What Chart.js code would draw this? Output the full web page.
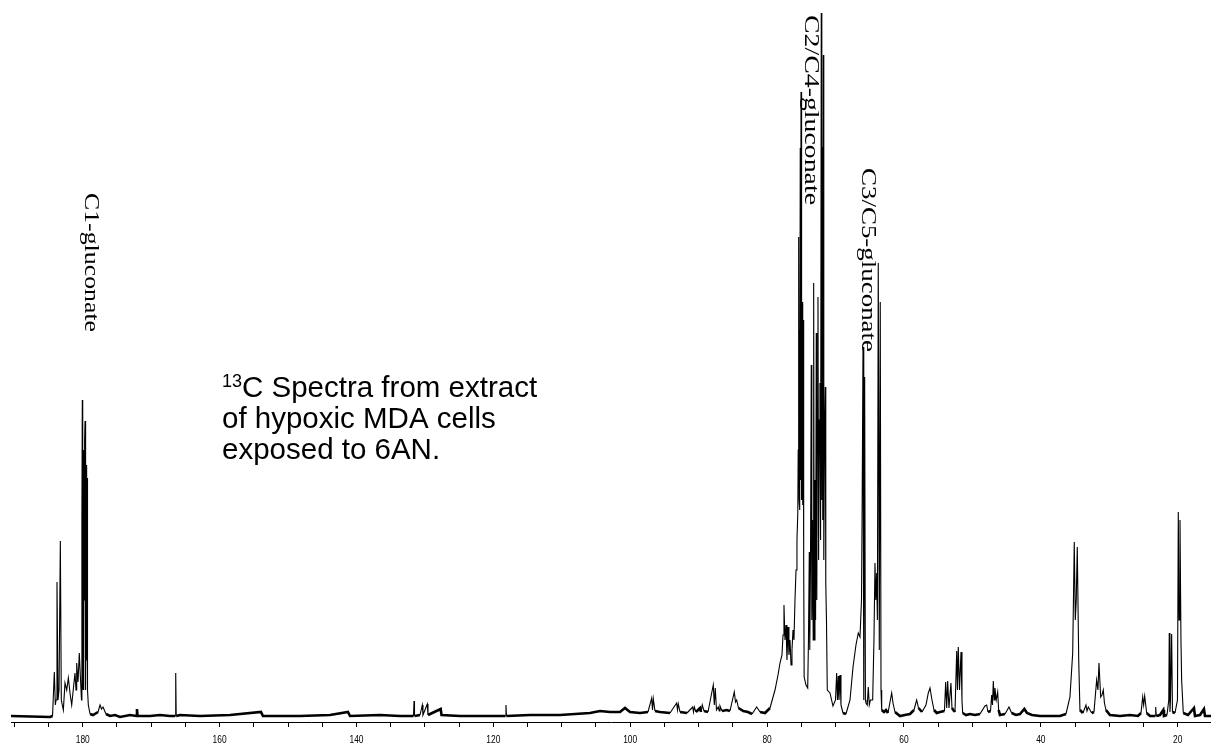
<!DOCTYPE html>
<html>
<head>
<meta charset="utf-8">
<script src="https://cdn.jsdelivr.net/npm/chart.js@4.4.0/dist/chart.umd.min.js"></script>
<style>
html,body{margin:0;padding:0;background:#fff;}
#wrap{width:1211px;height:743px;position:relative;}
</style>
</head>
<body>
<div id="wrap"><canvas id="c" width="1211" height="743"></canvas></div>
<script>
// Chemical shift (ppm) of each traced point of the 13C spectrum
const shiftPpm = [190.48,184.78,184.41,184.15,184.00,183.90,183.76,183.61,183.46,183.27,183.13,182.83,182.59,182.34,182.10,181.86,181.61,181.13,180.98,180.88,180.69,180.50,180.32,
180.18,180.12,180.06,180.00,179.94,179.88,179.82,179.77,179.72,179.66,179.61,179.55,179.49,179.43,179.37,179.33,179.27,179.18,
178.93,178.50,177.76,177.47,177.25,177.03,176.60,176.01,175.28,174.55,173.09,172.14,172.07,171.99,170.17,168.71,167.24,166.48,166.41,166.34,165.78,
162.86,158.48,153.95,153.66,148.25,143.87,141.24,140.94,136.56,133.64,
131.66,131.59,131.52,130.71,130.38,130.28,129.65,129.55,127.69,127.57,124.87,121.95,118.22,118.15,118.08,114.64,110.26,105.87,104.41,102.95,101.49,100.76,100.03,98.57,97.40,
96.86,96.74,96.62,96.38,95.65,94.18,93.21,93.09,92.97,92.72,91.70,90.87,90.75,90.63,90.39,89.80,89.65,89.47,89.22,88.63,
87.86,87.71,87.57,87.39,87.13,86.99,86.88,86.59,85.90,85.42,84.79,84.61,84.44,84.18,83.47,82.79,82.20,81.52,81.03,80.30,
79.57,78.84,78.40,78.11,77.82,77.67,77.53,77.38,77.23,77.09,76.94,76.80,76.65,76.50,76.36,76.21,76.07,75.92,75.77,75.63,75.51,
75.45,75.38,75.32,75.26,75.20,75.15,75.10,75.04,74.98,74.93,74.85,74.79,74.71,74.65,74.58,74.31,74.06,
73.95,73.83,73.76,73.65,73.54,73.46,73.36,73.26,73.19,73.11,73.00,72.91,72.81,72.73,72.65,72.56,72.47,72.37,72.27,72.18,
72.08,72.00,71.93,71.86,71.78,71.71,71.61,71.49,71.42,71.32,71.20,70.81,70.37,70.00,69.83,69.71,69.59,69.49,69.34,69.20,68.91,68.47,
67.88,67.44,67.01,66.67,66.42,66.20,66.10,65.98,65.87,65.74,65.63,65.55,65.36,65.21,65.06,64.89,64.57,64.38,64.23,64.11,63.98,63.88,63.75,63.60,63.46,63.35,63.25,
62.91,62.62,62.33,61.79,61.60,61.31,60.58,59.85,59.12,58.53,58.14,57.87,57.36,56.78,56.44,56.19,55.90,55.61,55.21,54.73,
54.08,53.90,53.75,53.61,53.42,53.13,52.98,52.79,52.54,52.29,52.18,52.06,51.88,51.66,51.52,51.42,50.93,50.35,49.62,48.89,
48.16,47.91,47.72,47.35,47.18,47.06,46.94,46.81,46.70,46.51,46.30,46.16,45.97,45.23,44.65,44.26,43.63,43.04,42.41,42.02,41.29,40.12,
38.66,37.20,36.32,35.74,35.34,35.11,34.96,34.82,34.67,34.46,34.28,33.84,33.40,33.25,33.06,32.57,32.23,31.84,31.65,31.50,31.25,31.06,30.87,30.70,30.48,
29.89,28.43,26.97,25.80,25.36,25.11,24.97,24.82,24.53,24.05,23.29,23.21,23.13,22.59,22.10,22.00,21.56,21.30,21.23,21.13,21.05,20.88,20.76,20.39,
20.03,19.91,19.80,19.66,19.52,19.42,19.18,18.49,17.62,17.47,16.74,16.16,16.01,15.13];

// Intensity (arbitrary units) of each traced point
const intensity = [1,0,1,45,12,17,135,17,27,176,17,7,34,27,39,24,12,44,27,54,35,64,37,
17,197,317,27,247,27,267,117,277,296,27,257,57,252,97,239,27,12,
3,2,5,12,8,10,3,1,2,0,2,1,8,1,1,2,1,1,44,1,2,
1,2,5,1,1,2,5,1,2,1,
1,16,1,2,12,2,13,2,8,2,1,1,1,12,1,2,2,4,6,5,5,9,5,4,5,
19,7,18,6,5,4,14,7,13,5,4,10,5,10,5,9,5,12,6,5,
32,12,29,7,10,6,11,6,7,6,25,15,17,9,6,5,3,10,5,4,
9,27,42,54,62,82,112,77,92,57,90,62,77,52,67,87,77,117,147,177,204,
267,480,217,387,207,569,237,625,217,377,415,212,397,157,40,32,29,
77,165,67,157,352,97,197,77,434,77,237,97,384,117,317,420,157,297,334,177,
704,217,570,197,662,157,277,330,134,97,27,24,11,17,44,17,41,17,42,12,4,3,
17,50,72,84,80,117,217,370,17,340,17,14,12,30,12,17,17,77,154,117,144,97,454,67,415,27,7,
5,7,4,24,14,5,1,2,3,7,17,9,5,12,24,29,17,7,4,5,
6,35,9,36,9,34,9,7,5,66,27,70,27,65,17,4,2,3,2,3,
11,12,5,6,22,12,36,17,29,17,25,7,2,3,10,4,2,3,8,4,2,1,
1,1,3,20,64,175,97,117,170,57,7,4,12,6,10,4,5,37,27,54,20,22,27,14,7,
2,1,2,1,4,20,12,21,4,1,1,10,1,2,7,1,2,17,84,5,17,83,5,4,
17,205,97,197,77,37,4,2,9,1,2,8,1,1];

// Axis tick marks and labelled ticks (ppm)
const tickMarks = [190,185,180,175,170,165,160,155,150,145,140,135,130,125,120,115,110,105,100,95,90,85,80,75,70,65,60,55,50,45,40,35,30,25,20];
const tickLabels = [180,160,140,120,100,80,60,40,20];

// Peak assignments and caption
const peakLabels = ['C1-gluconate','C2/C4-gluconate','C3/C5-gluconate'];
const captionLines = ['C Spectra from extract','of hypoxic MDA cells','exposed to 6AN.'];
const captionIsotope = '13';

const points = shiftPpm.map((p, i) => ({x: p, y: intensity[i]}));

const textPlugin = {
  id: 'texts',
  afterDraw(chart) {
    const ctx = chart.ctx;
    const xs = chart.scales.x;
    ctx.save();
    ctx.fillStyle = '#000';
    // tick labels (vertically stretched like the original)
    ctx.font = '8.4px "Liberation Sans", Arial, sans-serif';
    ctx.textAlign = 'center';
    ctx.textBaseline = 'alphabetic';
    tickLabels.forEach(v => {
      const px = xs.getPixelForValue(v);
      ctx.save();
      ctx.translate(px, 742.6);
      ctx.scale(1, 1.39);
      ctx.fillText(String(v), 0, 0);
      ctx.restore();
    });
    // rotated peak labels, stretched along their reading direction
    const vlab = (t, bx, top, len) => {
      ctx.save();
      ctx.font = '21px "Liberation Serif", "Times New Roman", serif';
      const w = ctx.measureText(t).width;
      ctx.translate(bx, top);
      ctx.rotate(Math.PI / 2);
      ctx.scale(len / w, 1);
      ctx.textAlign = 'left';
      ctx.textBaseline = 'alphabetic';
      ctx.fillText(t, 0, 0);
      ctx.restore();
    };
    vlab(peakLabels[0], 85, 193, 139);
    vlab(peakLabels[1], 805, 15, 190);
    vlab(peakLabels[2], 862, 168, 184);
    // caption
    ctx.textAlign = 'left';
    ctx.font = '18px "Liberation Sans", Arial, sans-serif';
    ctx.fillText(captionIsotope, 222, 387);
    ctx.font = '29.5px "Liberation Sans", Arial, sans-serif';
    ctx.fillText(captionLines[0], 242, 397);
    ctx.fillText(captionLines[1], 222, 428);
    ctx.fillText(captionLines[2], 222, 459);
    ctx.restore();
  }
};

new Chart(document.getElementById('c'), {
  type: 'line',
  data: {
    datasets: [{
      data: points,
      borderColor: '#000',
      borderWidth: 1,
      pointRadius: 0,
      tension: 0,
      fill: false,
      segment: {
        borderWidth: c => (c.p0.parsed.y < 10 && c.p1.parsed.y < 10) ? 2.6 : 1.1
      }
    }]
  },
  options: {
    responsive: false,
    animation: false,
    devicePixelRatio: 1,
    layout: {padding: {left: 11, right: 0, top: 0, bottom: 16}},
    plugins: {legend: {display: false}, tooltip: {enabled: false}},
    scales: {
      x: {
        type: 'linear',
        reverse: true,
        min: 15.13,
        max: 190.48,
        afterBuildTicks: s => { s.ticks = tickMarks.map(v => ({value: v})); },
        ticks: {display: false, autoSkip: false},
        grid: {drawOnChartArea: false, drawTicks: true, tickLength: 5, color: '#000', lineWidth: 1},
        border: {display: true, color: '#000', width: 1}
      },
      y: {
        display: false,
        min: -5,
        max: 717
      }
    }
  },
  plugins: [textPlugin]
});
</script>
</body>
</html>
